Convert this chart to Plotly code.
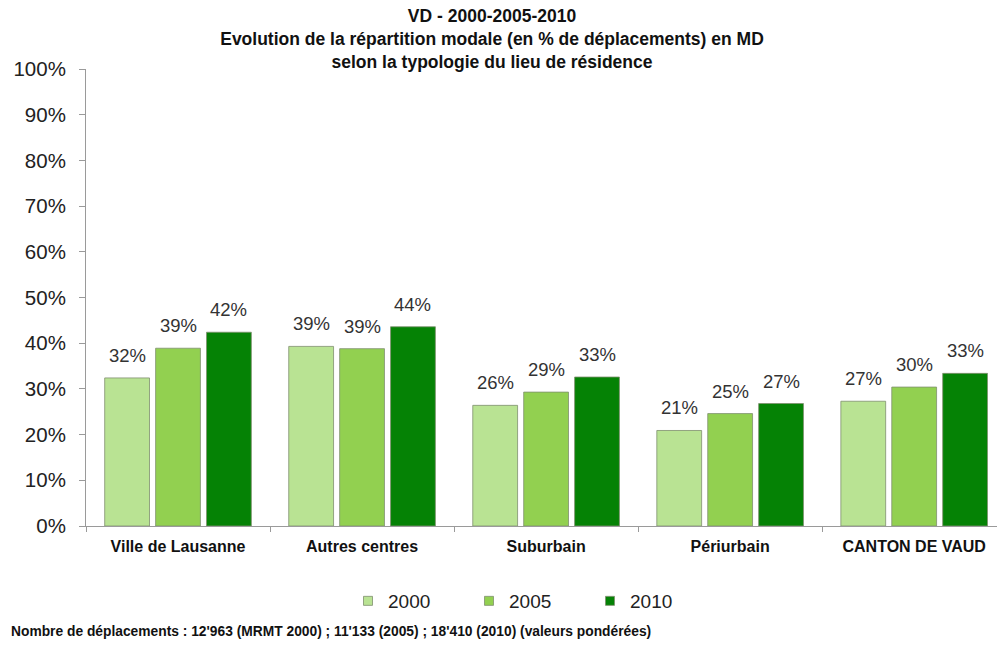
import plotly.graph_objects as go

categories = ["Ville de Lausanne", "Autres centres", "Suburbain", "Périurbain", "CANTON DE VAUD"]
years = ["2000", "2005", "2010"]
values_2000 = [32.4, 39.3, 26.4, 20.9, 27.3]
values_2005 = [38.9, 38.8, 29.3, 24.6, 30.4]
values_2010 = [42.4, 43.6, 32.6, 26.8, 33.4]
colors = ["#b9e393", "#92d050", "#058205"]
y_ticks = [0, 10, 20, 30, 40, 50, 60, 70, 80, 90, 100]
y_tick_labels = [f"{v}%" for v in y_ticks]

FONT = "Liberation Sans, Arial, sans-serif"
series = [values_2000, values_2005, values_2010]

fig = go.Figure()
for name, vals, col in zip(years, series, colors):
    fig.add_trace(go.Bar(
        name=name, x=categories, y=vals,
        marker=dict(color=col, line=dict(color="#7f8f6f", width=0.8)),
        showlegend=False, hoverinfo="x+y",
    ))
# legend entries with small square symbols
for name, col in zip(years, colors):
    fig.add_trace(go.Scatter(
        name=name, x=[None], y=[None], mode="markers",
        marker=dict(symbol="square", size=9, color=col, line=dict(color="#7f8f6f", width=0.8)),
        showlegend=True,
    ))

# data labels above bars
slot_px = 911 / 4.95 * 0.83 / 3
for i, vals in enumerate(series):
    for cat, v in zip(categories, vals):
        fig.add_annotation(
            x=cat, y=v, xref="x", yref="y", text=f"{round(v)}%",
            showarrow=False, yanchor="bottom", yshift=10, xshift=(i - 1) * slot_px,
            font=dict(family=FONT, size=18.5, color="#333333"),
        )

fig.update_layout(
    width=998, height=653,
    paper_bgcolor="white", plot_bgcolor="white",
    margin=dict(l=86, r=1, t=69, b=127),
    barmode="group", bargap=0.17, bargroupgap=0.12,
    font=dict(family=FONT, color="#222222"),
    title=dict(
        text="VD - 2000-2005-2010<br>Evolution de la répartition modale (en % de déplacements) en MD<br>selon la typologie du lieu de résidence",
        x=0.493, xanchor="center", y=1 - 22 / 653, yanchor="middle",
        font=dict(family=FONT, size=17.5, color="#111111", weight="bold"),
    ),
    legend=dict(orientation="h", x=0.5 - 12 / 911, xanchor="center", y=-75 / 457, yanchor="middle",
                font=dict(family=FONT, size=19, color="#222222"), entrywidth=76, itemwidth=30,
                traceorder="normal"),
    showlegend=True,
)

fig.update_xaxes(
    type="category", range=[-0.5, 4.45],
    showline=True, linecolor="#9a9a9a", linewidth=1,
    ticks="outside", tickson="boundaries", ticklen=5, tickcolor="#9a9a9a",
    tickfont=dict(family=FONT, size=16, color="#111111", weight="bold"),
    ticklabelstandoff=6,
    showgrid=False,
)
fig.update_yaxes(
    range=[0, 100], tickvals=y_ticks, ticktext=y_tick_labels,
    showline=True, linecolor="#9a9a9a", linewidth=1,
    ticks="outside", ticklen=6, tickcolor="#9a9a9a",
    tickfont=dict(family=FONT, size=20.5, color="#222222"),
    ticklabelstandoff=9,
    showgrid=False, zeroline=False,
)

fig.add_annotation(
    text="Nombre de déplacements : 12'963 (MRMT 2000) ; 11'133 (2005) ; 18'410 (2010) (valeurs pondérées)",
    xref="paper", yref="paper", x=-76 / 911, xanchor="left", y=-105 / 457, yanchor="middle",
    showarrow=False, xshift=-1,
    font=dict(family=FONT, size=13.8, color="#111111", weight="bold"),
)

fig.write_html(
    "out.html",
    config={"displayModeBar": False},
    post_script="document.body.style.margin='0px';document.body.style.overflow='hidden';",
)
